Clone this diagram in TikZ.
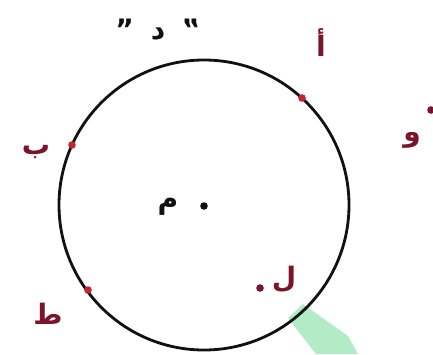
\documentclass[tikz,border=0pt]{standalone}
\usepackage{fontspec}
\newfontfamily\arabicfont[Script=Arabic]{DejaVu Sans}
\TeXXeTstate=1
\usetikzlibrary{calc,positioning}
\definecolor{BoardInk}{HTML}{111111}
\definecolor{BoardRed}{HTML}{7A1428}
\definecolor{BoardDot}{HTML}{C0262D}
\definecolor{BoardMark}{HTML}{7EE0A0}
\tikzset{
  letter/.style={font=\arabicfont\bfseries\fontsize{24}{28}\selectfont, text=BoardRed, inner sep=0pt},
  centreletter/.style={letter, text=BoardInk},
  ring/.style={draw=BoardInk, line width=2.4pt},
  ptmark/.style={fill=BoardDot},
}

\begin{document}
\begin{tikzpicture}[x=0.03cm,y=-0.03cm]
  \useasboundingbox (0,0) rectangle (433,354);
  % highlighter stroke, bottom right
  \fill[BoardMark, opacity=0.6] (288,318) -- (303,304) -- (348,336) -- (358,354) -- (316,354) -- cycle;
  % circle, centre m
  \draw[ring] (204,205) circle (145);
  \coordinate (m) at (204,206);
  \fill[BoardInk] (m) circle (3.8);
  \node[centreletter] (mlabel) at (168,207) {\beginR م\endR};
  % points on the circle
  \fill[ptmark] (302,98) circle (3.8) coordinate (a);
  \fill[ptmark] (72,145) circle (3.8) coordinate (b);
  \fill[ptmark] (88,290) circle (3.8) coordinate (t);
  \node[letter] (alabel) at (321,43) {\beginR أ\endR};
  \node[letter] (blabel) at (36,152) {\beginR ب\endR};
  \node[letter] (tlabel) at (48,314) {\beginR ط\endR};
  % point inside and point outside
  \fill[BoardRed] (260,288) circle (3.8) coordinate (l);
  \node[letter] (llabel) at (284,279) {\beginR ل\endR};
  \fill[BoardRed] (431,110) circle (3.8) coordinate (w);
  \node[letter] (wlabel) at (412,140) {\beginR و\endR};
  % title
  \node[centreletter] (dlabel) at (158,30) {”\hspace{0.6em}\beginR د\endR\hspace{0.6em}‟};
\end{tikzpicture}
\end{document}
